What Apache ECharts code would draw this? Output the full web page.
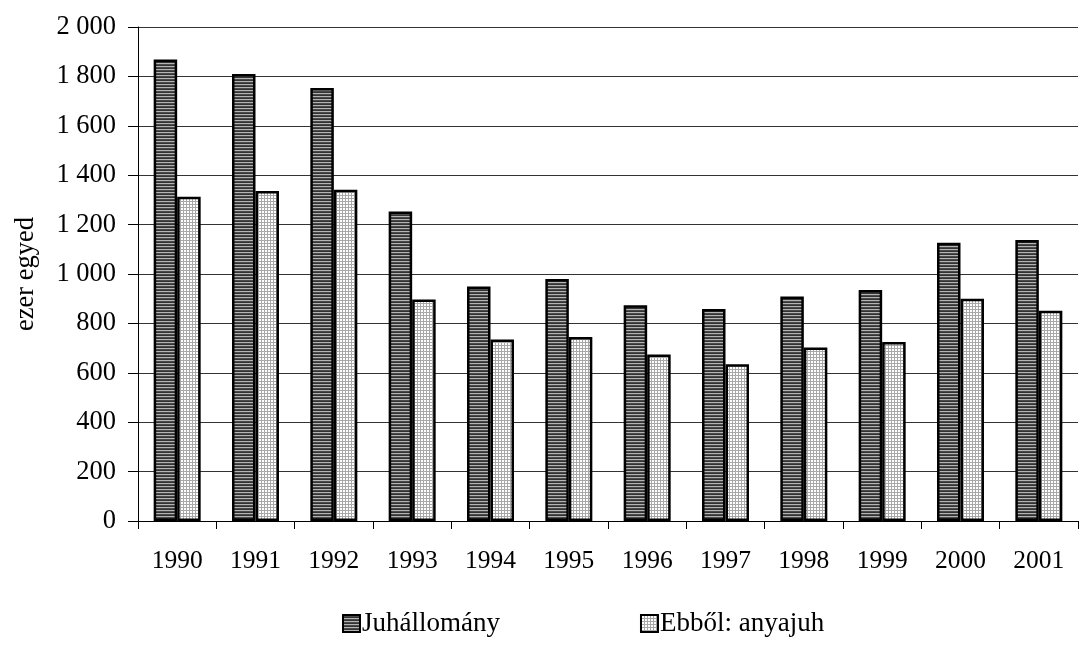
<!DOCTYPE html>
<html>
<head>
<meta charset="utf-8">
<script src="https://cdn.jsdelivr.net/npm/echarts@6/dist/echarts.min.js"></script>
<style>
html,body{margin:0;padding:0;background:#fff;}
#chart{width:1081px;height:646px;}
</style>
</head>
<body>
<div id="chart"></div>
<script>
const categories = ['1990','1991','1992','1993','1994','1995','1996','1997','1998','1999','2000','2001'];
const seriesNames = ['Juhállomány', 'Ebből: anyajuh'];
const juhallomany = [1868, 1810, 1753, 1253, 949, 980, 873, 858, 909, 935, 1127, 1138];
const anyajuh = [1313, 1336, 1341, 897, 735, 745, 674, 635, 702, 725, 900, 851];
const yTicks = [0, 200, 400, 600, 800, 1000, 1200, 1400, 1600, 1800, 2000];

function stripePattern() {
  const c = document.createElement('canvas');
  c.width = 4; c.height = 3;
  const g = c.getContext('2d');
  g.fillStyle = '#b4b4b4'; g.fillRect(0, 0, 4, 1);
  g.fillStyle = '#4a4a4a'; g.fillRect(0, 1, 4, 1);
  g.fillStyle = '#333333'; g.fillRect(0, 2, 4, 1);
  return c;
}
function gridPattern() {
  const c = document.createElement('canvas');
  c.width = 3; c.height = 3;
  const g = c.getContext('2d');
  g.fillStyle = '#ffffff'; g.fillRect(0, 0, 3, 3);
  g.fillStyle = '#a8a8a8'; g.fillRect(0, 0, 3, 1); g.fillRect(0, 0, 1, 3);
  return c;
}

const font = "'Liberation Serif', 'Times New Roman', serif";
const chart = echarts.init(document.getElementById('chart'), null, {renderer: 'canvas'});
chart.setOption({
  animation: false,
  backgroundColor: '#fff',
  textStyle: {fontFamily: font, color: '#000'},
  grid: {left: 138, right: 3, top: 27, bottom: 125, containLabel: false},
  legend: {
    top: 605,
    left: 337,
    icon: 'rect',
    itemWidth: 17,
    itemHeight: 17,
    itemGap: 140,
    textStyle: {fontFamily: font, fontSize: 27, color: '#000', padding: [0, 0, 0, -3]},
    data: seriesNames
  },
  xAxis: {
    type: 'category',
    data: categories,
    axisLine: {lineStyle: {color: '#000', width: 1}},
    axisTick: {show: true, length: 8, lineStyle: {color: '#000'}},
    axisLabel: {fontFamily: font, fontSize: 25.5, color: '#000', margin: 27}
  },
  yAxis: {
    type: 'value',
    min: yTicks[0],
    max: yTicks[yTicks.length - 1],
    interval: 200,
    name: 'ezer egyed',
    nameLocation: 'middle',
    nameGap: 98,
    nameTextStyle: {fontFamily: font, fontSize: 26.5, color: '#000'},
    axisLine: {show: true, lineStyle: {color: '#000', width: 1}},
    axisTick: {show: true, length: 10, lineStyle: {color: '#000'}},
    axisLabel: {
      fontFamily: font, fontSize: 26.5, color: '#000', margin: 22,
      formatter: v => String(v).replace(/\B(?=(\d{3})+(?!\d))/g, ' ')
    },
    splitLine: {show: true, lineStyle: {color: '#333', width: 1}}
  },
  series: [
    {
      name: seriesNames[0],
      type: 'bar',
      data: juhallomany,
      barGap: '0%',
      barCategoryGap: '40%',
      itemStyle: {color: {image: stripePattern(), repeat: 'repeat'}, borderColor: '#000', borderWidth: 2.5}
    },
    {
      name: seriesNames[1],
      type: 'bar',
      data: anyajuh,
      barGap: '0%',
      barCategoryGap: '40%',
      itemStyle: {color: {image: gridPattern(), repeat: 'repeat'}, borderColor: '#000', borderWidth: 2.5}
    }
  ]
});
</script>
</body>
</html>
